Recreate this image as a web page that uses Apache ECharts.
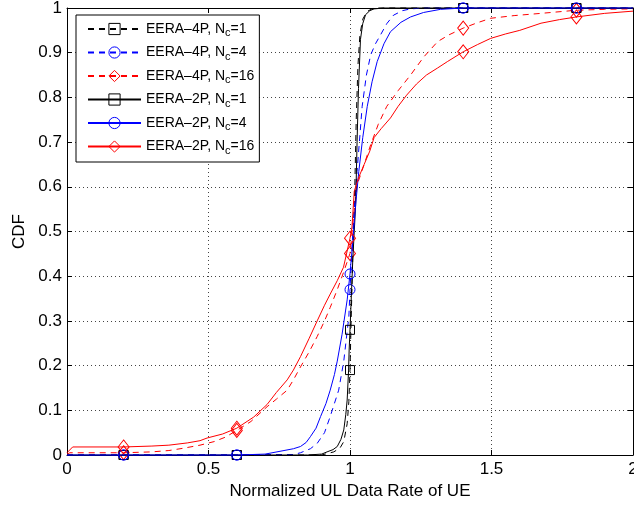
<!DOCTYPE html>
<html>
<head>
<meta charset="utf-8">
<script src="https://cdn.jsdelivr.net/npm/echarts@6/dist/echarts.min.js"></script>
<style>html,body{margin:0;padding:0;background:#fff;overflow:hidden}#c{width:634px;height:505px}</style>
</head>
<body>
<div id="c"></div>
<script>
// ---- data ----
const xTicks = [0, 0.5, 1, 1.5, 2];
const markerX = [0.2, 0.6, 1.0, 1.4, 1.8];
const names = ['EERA–4P, N_c=1', 'EERA–4P, N_c=4', 'EERA–4P, N_c=16', 'EERA–2P, N_c=1', 'EERA–2P, N_c=4', 'EERA–2P, N_c=16'];

const eera4pNc1 = [[0,0],[0.2,0],[0.6,0],[0.9,0],[0.943,0.007],[0.965,0.016],[0.978,0.03],[0.99,0.07],[0.996,0.12],[1.0,0.19],[1.004,0.3],[1.008,0.4],[1.012,0.5],[1.017,0.6],[1.022,0.75],[1.028,0.87],[1.035,0.94],[1.045,0.975],[1.06,0.992],[1.08,0.999],[1.1,1],[1.4,1],[1.8,1],[2,1]];
const eera4pNc4 = [[0,0],[0.2,0],[0.6,0],[0.8,0.001],[0.825,0.005],[0.86,0.014],[0.884,0.026],[0.91,0.05],[0.93,0.086],[0.96,0.145],[0.978,0.21],[0.996,0.31],[1.0,0.37],[1.01,0.5],[1.025,0.634],[1.043,0.78],[1.058,0.85],[1.073,0.895],[1.09,0.92],[1.108,0.94],[1.13,0.965],[1.154,0.984],[1.185,0.994],[1.214,0.998],[1.26,1],[1.4,1],[1.8,1],[2,1]];
const eera4pNc16 = [[0,0.002],[0.01,0.005],[0.2,0.005],[0.3,0.007],[0.36,0.01],[0.41,0.015],[0.47,0.022],[0.52,0.03],[0.56,0.04],[0.6,0.055],[0.65,0.075],[0.707,0.108],[0.74,0.125],[0.778,0.145],[0.8,0.168],[0.825,0.197],[0.855,0.23],[0.884,0.265],[0.91,0.3],[0.93,0.33],[0.955,0.37],[0.978,0.41],[1.0,0.451],[1.012,0.53],[1.025,0.604],[1.05,0.65],[1.073,0.694],[1.1,0.74],[1.13,0.78],[1.17,0.815],[1.214,0.85],[1.26,0.89],[1.31,0.925],[1.35,0.94],[1.4,0.955],[1.45,0.967],[1.497,0.977],[1.58,0.983],[1.675,0.988],[1.8,0.995],[1.9,0.997],[2,0.998]];
const eera2pNc1 = [[0,0],[0.2,0],[0.6,0],[0.85,0],[0.9,0.002],[0.919,0.007],[0.94,0.012],[0.955,0.019],[0.968,0.035],[0.978,0.056],[0.985,0.09],[0.99,0.123],[0.995,0.19],[0.997,0.235],[1.0,0.28],[1.005,0.36],[1.01,0.44],[1.015,0.5],[1.02,0.56],[1.025,0.7],[1.03,0.82],[1.037,0.93],[1.045,0.965],[1.055,0.985],[1.07,0.994],[1.085,0.998],[1.12,1],[1.4,1],[1.8,1],[2,1]];
const eera2pNc4 = [[0,0],[0.2,0],[0.6,0],[0.7,0.002],[0.742,0.007],[0.8,0.014],[0.825,0.019],[0.845,0.028],[0.86,0.041],[0.88,0.06],[0.896,0.086],[0.915,0.115],[0.93,0.145],[0.945,0.18],[0.955,0.21],[0.972,0.27],[0.99,0.347],[1.0,0.405],[1.01,0.48],[1.02,0.56],[1.031,0.634],[1.045,0.71],[1.061,0.78],[1.078,0.835],[1.096,0.88],[1.12,0.92],[1.143,0.947],[1.18,0.968],[1.214,0.98],[1.26,0.99],[1.32,0.997],[1.4,1],[1.8,1],[2,1]];
const eera2pNc16 = [[0,0.005],[0.02,0.018],[0.2,0.018],[0.3,0.02],[0.36,0.022],[0.425,0.027],[0.47,0.032],[0.495,0.038],[0.55,0.047],[0.6,0.06],[0.66,0.085],[0.707,0.113],[0.74,0.14],[0.778,0.168],[0.8,0.19],[0.825,0.22],[0.855,0.26],[0.884,0.3],[0.91,0.335],[0.93,0.36],[0.955,0.39],[0.977,0.42],[1.0,0.485],[1.007,0.51],[1.015,0.59],[1.03,0.62],[1.05,0.65],[1.07,0.68],[1.085,0.71],[1.11,0.73],[1.143,0.754],[1.17,0.78],[1.2,0.805],[1.235,0.83],[1.27,0.85],[1.31,0.866],[1.344,0.88],[1.4,0.902],[1.45,0.918],[1.497,0.932],[1.55,0.942],[1.6,0.95],[1.675,0.966],[1.74,0.974],[1.8,0.98],[1.9,0.988],[2,0.993]];

// ---- build ----
const curves = [eera4pNc1, eera4pNc4, eera4pNc16, eera2pNc1, eera2pNc4, eera2pNc16];
const colors = ['#000000', '#0000ff', '#ff0000', '#000000', '#0000ff', '#ff0000'];
const dashed = [true, true, true, false, false, false];
const symbols = ['rect', 'circle', 'diamond', 'rect', 'circle', 'diamond'];
const symSizes = [9, 10, [11, 14], 9, 10, [11, 14]];
const FONT = 'Liberation Sans, Arial, Helvetica, sans-serif';

const series = curves.map((pts, i) => ({
  name: names[i],
  type: 'line',
  xAxisIndex: 0, yAxisIndex: 0,
  symbol: symbols[i],
  symbolSize: symSizes[i],
  showSymbol: true,
  showAllSymbol: true,
  animation: false,
  silent: true,
  clip: false,
  z: 2 + i,
  lineStyle: { color: colors[i], width: 1, type: dashed[i] ? [6, 5] : 'solid' },
  itemStyle: { color: 'rgba(0,0,0,0)', borderColor: colors[i], borderWidth: 1 },
  data: pts.map(p => markerX.some(m => Math.abs(m - p[0]) < 1e-9) ? { value: p } : { value: p, symbol: 'none' })
}));

function legendFmt(name) {
  const parts = name.split('_c');
  return '{t|' + parts[0] + '}{s|c}{t|' + parts[1] + '}';
}

const axisBase = {
  type: 'value',
  axisLine: { show: true, onZero: false, lineStyle: { color: '#000', width: 1 } },
  axisTick: { show: true, inside: true, length: 5, lineStyle: { color: '#000' } },
};

const option = {
  backgroundColor: '#fff',
  animation: false,
  grid: { left: 67, top: 8, width: 566, height: 447, containLabel: false, outerBoundsMode: 'none' },
  xAxis: [
    Object.assign({}, axisBase, {
      position: 'bottom', min: 0, max: 2, interval: 0.5,
      axisLabel: { color: '#000', fontSize: 17, fontFamily: FONT, margin: 6, hideOverlap: false },
      splitLine: { show: true, lineStyle: { color: '#444', type: [1, 3], width: 1 } },
      name: 'Normalized UL Data Rate of UE', nameLocation: 'middle', nameGap: 27,
      nameTextStyle: { color: '#000', fontSize: 17, fontFamily: FONT }
    }),
    Object.assign({}, axisBase, {
      position: 'top', min: 0, max: 2, interval: 0.5,
      axisLabel: { show: false }, splitLine: { show: false }
    })
  ],
  yAxis: [
    Object.assign({}, axisBase, {
      position: 'left', min: 0, max: 1, interval: 0.1,
      axisLabel: { color: '#000', fontSize: 17, fontFamily: FONT, margin: 5 },
      splitLine: { show: true, lineStyle: { color: '#444', type: [1, 3], width: 1 } },
      name: 'CDF', nameLocation: 'middle', nameGap: 38,
      nameTextStyle: { color: '#000', fontSize: 17, fontFamily: FONT }
    }),
    Object.assign({}, axisBase, {
      position: 'right', min: 0, max: 1, interval: 0.1,
      axisLabel: { show: false }, splitLine: { show: false }
    })
  ],
  legend: {
    orient: 'vertical',
    left: 76, top: 15,
    padding: [7, 5, 6, 11],
    backgroundColor: '#fff',
    borderColor: '#000', borderWidth: 1, borderRadius: 0,
    itemWidth: 53, itemHeight: 14, itemGap: 7,
    selectedMode: false,
    itemStyle: { borderWidth: 1 },
    formatter: legendFmt,
    textStyle: {
      color: '#000', fontFamily: FONT, fontSize: 14,
      rich: {
        t: { fontSize: 14, fontFamily: FONT, color: '#000' },
        s: { fontSize: 11, fontFamily: FONT, color: '#000', padding: [8, 0, 0, 0] }
      }
    },
    data: names
  },
  series: series
};

const chart = echarts.init(document.getElementById('c'), null, { renderer: 'canvas' });
chart.setOption(option);
</script>
</body>
</html>
